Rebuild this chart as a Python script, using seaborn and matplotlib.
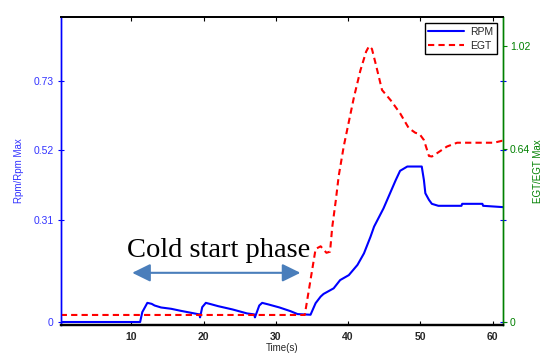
import numpy as np
import pandas as pd
import matplotlib
matplotlib.use("Agg")
import matplotlib.pyplot as plt
import seaborn as sns

# ---- data ----
rpm_t = [0.2, 11.2, 11.5, 12.2, 12.8, 13.2, 14.1, 15.5, 16.8, 18.7, 19.4, 19.5, 19.8, 20.3,
         21.0, 22.0, 24.0, 26.0, 27.0, 27.1, 27.7, 28.1, 29.0, 30.5, 32.0, 33.0, 34.8,
         35.5, 36.2, 36.6, 38.0, 38.9, 40.1, 41.3, 42.2, 43.1, 43.6, 44.9, 46.6, 47.2,
         48.2, 50.2, 50.5, 50.7, 51.2, 51.6, 52.5, 55.7, 55.8, 58.6, 58.7, 61.45]
rpm_v = [0.0, 0.0, 0.03, 0.058, 0.055, 0.05, 0.044, 0.04, 0.034, 0.026, 0.023, 0.014, 0.045, 0.058,
         0.054, 0.048, 0.038, 0.026, 0.023, 0.014, 0.05, 0.058, 0.053, 0.044, 0.033, 0.024, 0.022,
         0.057, 0.077, 0.085, 0.102, 0.127, 0.142, 0.173, 0.208, 0.258, 0.289, 0.344, 0.43, 0.458,
         0.471, 0.471, 0.43, 0.39, 0.37, 0.358, 0.352, 0.352, 0.358, 0.358, 0.352, 0.348]

egt_t = [0.2, 34.0, 35.5, 36.2, 37.0, 37.5, 37.8, 38.3, 38.7, 39.4, 40.1, 40.8, 41.7, 42.5,
         42.9, 43.3, 43.8, 44.7, 45.9, 47.2, 48.4, 49.3, 49.9, 50.5, 51.2, 51.6, 52.3, 53.7,
         55.1, 60.2, 61.3, 61.45]
egt_v = [0.026, 0.026, 0.27, 0.28, 0.256, 0.26, 0.35, 0.45, 0.54, 0.65, 0.74, 0.83, 0.93, 1.0,
         1.02, 1.01, 0.957, 0.858, 0.82, 0.772, 0.717, 0.700, 0.695, 0.673, 0.614, 0.612, 0.624,
         0.649, 0.663, 0.663, 0.67, 0.67]

x_ticks = [10, 20, 30, 40, 50, 60]
rpm_ticks = [0, 0.31, 0.52, 0.73]
rpm_ticklabels = ["0", "0.31", "0.52", "0.73"]
egt_ticks = [0, 0.64, 1.02]
egt_ticklabels = ["0", "0.64", "1.02"]

annot_text = "Cold start phase"
arrow_x = [10.1, 33.4]
arrow_y = 0.149

rpm_df = pd.DataFrame({"t": rpm_t, "v": rpm_v})
egt_df = pd.DataFrame({"t": egt_t, "v": egt_v})

# ---- style ----
sns.set_style("white")
plt.rcParams["font.family"] = ["Liberation Sans", "DejaVu Sans"]

BLUE = "#0000FF"
TBLUE = "#3333FF"
GREEN = "#008000"
RED = "#FF0000"
ACOL = "#4A7EBB"

fig = plt.figure(figsize=(5.42, 3.54), dpi=100)
ax = fig.add_axes([0.112, 0.082, 0.816, 0.870])
ax2 = ax.twinx()

sns.lineplot(data=rpm_df, x="t", y="v", ax=ax, color=BLUE, linewidth=1.5,
             estimator=None, sort=False, label="RPM", legend=False)
sns.lineplot(data=egt_df, x="t", y="v", ax=ax2, color=RED, linewidth=1.5,
             estimator=None, sort=False, label="EGT", legend=False, linestyle="--")
ax2.lines[0].set_dashes((3.0, 2.0))

ax.set_xlim(0.2, 61.45)
ax.set_ylim(-0.009, 0.924)
ax2.set_ylim(-0.011, 1.128)

ax.set_xticks(x_ticks)
ax.set_xticklabels([str(v) for v in x_ticks], fontsize=7.5, fontweight="bold")
ax.set_yticks(rpm_ticks)
ax.set_yticklabels(rpm_ticklabels, fontsize=7.5, color=TBLUE)
ax2.set_yticks(egt_ticks)
ax2.set_yticklabels(egt_ticklabels, fontsize=7.5, color=GREEN)

ax.tick_params(axis="x", direction="in", length=3, top=True, bottom=True, pad=5, color="black")
ax.tick_params(axis="y", direction="inout", length=4, left=True, right=True, color=BLUE, pad=3)
ax2.tick_params(axis="y", direction="out", length=3, right=True, color=GREEN, pad=2)
ax2.tick_params(axis="x", top=False, bottom=False)

for a in (ax, ax2):
    a.spines["left"].set_color(BLUE)
    a.spines["right"].set_color(GREEN)
    a.spines["top"].set_color("black")
    a.spines["bottom"].set_color("black")
    a.spines["top"].set_linewidth(1.3)
    a.spines["bottom"].set_linewidth(1.6)
    a.spines["left"].set_linewidth(1.0)
    a.spines["right"].set_linewidth(1.0)

ax.set_xlabel("Time(s)", fontsize=7, labelpad=1)
ax.set_ylabel("Rpm/Rpm Max", fontsize=7, color=TBLUE, labelpad=7)
ax2.set_ylabel("EGT/EGT Max", fontsize=7, color=GREEN, labelpad=2)

# annotation
ax.text(9.45, 0.198, annot_text, fontsize=20.5, family=["Liberation Serif", "DejaVu Serif"],
        ha="left", va="baseline", color="black")
ax.annotate("", xy=(arrow_x[1], arrow_y), xytext=(arrow_x[0], arrow_y),
            arrowprops=dict(arrowstyle="<|-|>,head_length=0.55,head_width=0.27",
                            mutation_scale=20, color=ACOL, lw=1.5,
                            shrinkA=0, shrinkB=0))

handles = ax.get_lines()[:1] + ax2.get_lines()[:1]
leg = ax2.legend(handles, ["RPM", "EGT"], loc="upper right", fontsize=7.5,
                 frameon=True, fancybox=False, framealpha=1, edgecolor="black",
                 borderaxespad=0.6, handlelength=3.4, handletextpad=0.6,
                 borderpad=0.35, labelspacing=0.35)
leg.get_frame().set_linewidth(1.0)

fig.savefig("out.png", dpi=100)
